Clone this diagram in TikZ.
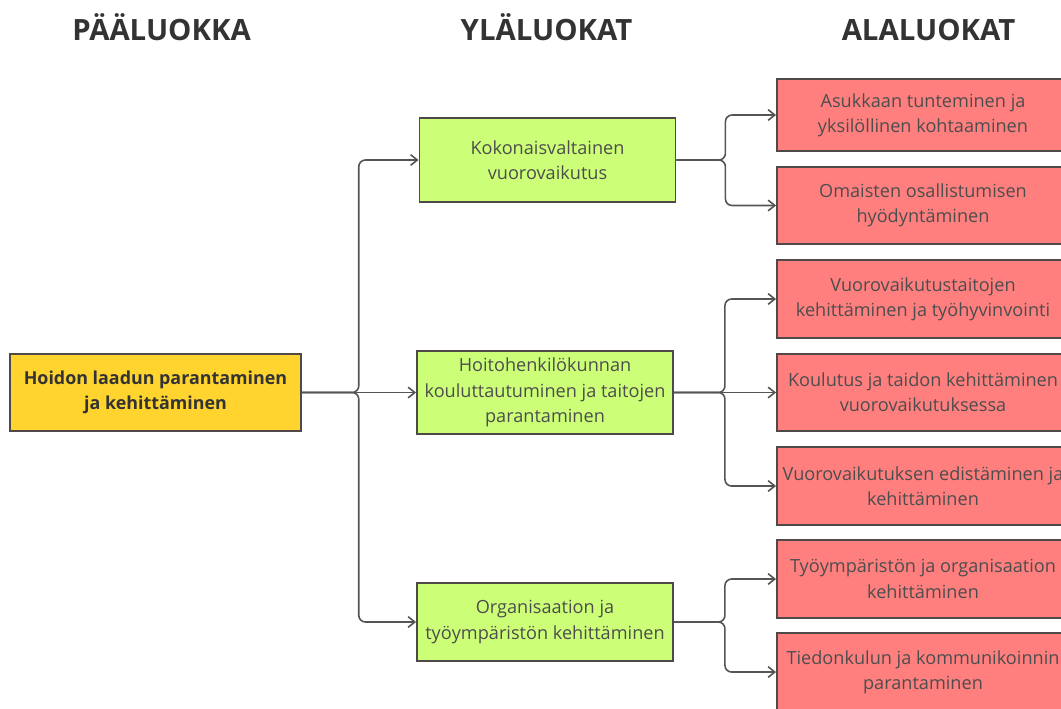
\documentclass[tikz,border=0pt]{standalone}
\usepackage{fontspec}
\setmainfont{Open Sans}
\usetikzlibrary{arrows.meta,positioning,calc}
\definecolor{ink}{HTML}{333333}
\definecolor{ink2}{HTML}{4D4D4D}
\definecolor{edge}{HTML}{4F4A47}
\definecolor{wire}{HTML}{555555}
\definecolor{paafill}{HTML}{FFD42E}
\definecolor{ylafill}{HTML}{CCFF77}
\definecolor{alafill}{HTML}{FF7F7F}

\begin{document}
\begin{tikzpicture}[
    x=0.75pt,y=-0.75pt,
    head/.style={anchor=base,font=\bfseries\fontsize{22}{26}\selectfont,text=ink},
    box/.style={draw=edge,line width=1.4pt,align=center,inner sep=0pt,
        font=\fontsize{13.6}{19}\selectfont,text=ink2},
    paa/.style={box,fill=paafill,minimum width=218pt,minimum height=58pt,
        font=\bfseries\fontsize{13.4}{19}\selectfont,text=ink},
    yla/.style={box,fill=ylafill,minimum width=192pt,minimum height=62pt},
    ala/.style={box,fill=alafill,minimum width=219pt,minimum height=58pt},
    conn/.style={draw=wire,line width=1.2pt,rounded corners=5pt,
        -{Straight Barb[length=5pt,width=8pt]}}
]
\clip (0,0) rectangle (1061,708);

% column heads
\node[head] (H1) at (161.5,40) {PÄÄLUOKKA};
\node[head] (H2) at (546.5,40) {YLÄLUOKAT};
\node[head] (H3) at (928.5,40) {ALALUOKAT};

% main class
\node[paa] (R) at (155.5,392.5) {Hoidon laadun parantaminen\\ja kehittäminen};

% upper classes
\node[yla,minimum height=63pt] (Y1) at (547.5,160) {Kokonaisvaltainen\\vuorovaikutus};
\node[yla] (Y2) at (545,392.5) {Hoitohenkilökunnan\\kouluttautuminen ja taitojen\\parantaminen};
\node[yla,minimum height=58.5pt] (Y3) at (545,622) {Organisaation ja\\työympäristön kehittäminen};

% lower classes
\node[ala,minimum height=54pt] (A1) at (923,115) {Asukkaan tunteminen ja\\yksilöllinen kohtaaminen};
\node[ala] (A2) at (923,205.5) {Omaisten osallistumisen\\hyödyntäminen};
\node[ala] (A3) at (923,299) {Vuorovaikutustaitojen\\kehittäminen ja työhyvinvointi};
\node[ala] (A4) at (923,392.5) {Koulutus ja taidon kehittäminen\\vuorovaikutuksessa};
\node[ala] (A5) at (923,486) {Vuorovaikutuksen edistäminen ja\\kehittäminen};
\node[ala] (A6) at (923,579) {Työympäristön ja organisaation\\kehittäminen};
\node[ala] (A7) at (923,672) {Tiedonkulun ja kommunikoinnin\\parantaminen};

% connectors
\draw[conn] (R.east) -- ++(57,0) |- (Y1.west);
\draw[conn] (R.east) -- (Y2.west);
\draw[conn] (R.east) -- ++(57,0) |- (Y3.west);

\foreach \t in {A1,A2}
    \draw[conn] (Y1.east) -- ++(49,0) |- (\t.west);
\foreach \t in {A3,A5}
    \draw[conn] (Y2.east) -- ++(51,0) |- (\t.west);
\draw[conn] (Y2.east) -- (A4.west);
\foreach \t in {A6,A7}
    \draw[conn] (Y3.east) -- ++(51,0) |- (\t.west);
\end{tikzpicture}
\end{document}
